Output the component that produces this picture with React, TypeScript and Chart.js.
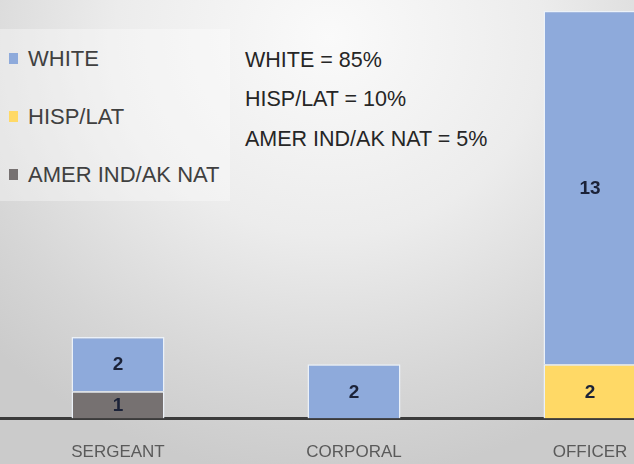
import React, { useEffect, useRef } from "react";
import { Chart, registerables } from "chart.js";

Chart.register(...registerables);

const categories = ["SERGEANT", "CORPORAL", "OFFICER"];
const amerIndValues = [1, null, null];
const hispLatValues = [null, null, 2];
const whiteValues = [2, 2, 13];

const seriesLabels = ["AMER IND/AK NAT", "HISP/LAT", "WHITE"];
const seriesColors = ["#767171", "#ffd966", "#8eaadb"];

const noteLines = ["WHITE = 85%", "HISP/LAT = 10%", "AMER IND/AK NAT = 5%"];

const valueLabelPlugin = {
  id: "valueLabels",
  afterDatasetsDraw(chart: any) {
    const ctx = chart.ctx;
    ctx.save();
    ctx.font = "bold 19px 'Liberation Sans', sans-serif";
    ctx.fillStyle = "#1b2238";
    ctx.textAlign = "center";
    ctx.textBaseline = "middle";
    chart.data.datasets.forEach((ds: any, i: number) => {
      const meta = chart.getDatasetMeta(i);
      meta.data.forEach((el: any, j: number) => {
        const v = ds.data[j];
        if (v === null || v === undefined || v === 0) return;
        const p = el.getProps(["x", "y", "base"], true);
        ctx.fillText(String(v), p.x, (p.y + p.base) / 2 + 1);
      });
    });
    ctx.restore();
  },
};

export default function App() {
  const canvasRef = useRef<HTMLCanvasElement | null>(null);

  useEffect(() => {
    document.body.style.margin = "0";
    const canvas = canvasRef.current;
    if (!canvas) return;
    const chart = new Chart(canvas, {
      type: "bar",
      data: {
        labels: categories,
        datasets: [
          { label: seriesLabels[0], data: amerIndValues, backgroundColor: seriesColors[0] },
          { label: seriesLabels[1], data: hispLatValues, backgroundColor: seriesColors[1] },
          { label: seriesLabels[2], data: whiteValues, backgroundColor: seriesColors[2] },
        ].map((d) => ({
          ...d,
          borderColor: "rgba(236,242,250,0.95)",
          borderWidth: 1.5,
          borderSkipped: "start",
          barPercentage: 0.394,
          categoryPercentage: 1,
        })) as any,
      },
      options: {
        responsive: false,
        animation: false,
        layout: { padding: { top: 0, left: 0, right: 0, bottom: 0 } },
        plugins: {
          legend: { display: false },
          tooltip: { enabled: false },
          title: { display: false },
        },
        scales: {
          x: {
            stacked: true,
            grid: { display: false, drawTicks: false },
            border: { display: true, color: "#3b3b3b", width: 3 },
            afterFit: (scale: any) => {
              scale.height = 45.5;
            },
            ticks: {
              padding: 24,
              color: "#5a5a5a",
              font: { family: "'Liberation Sans', sans-serif", size: 17 },
            },
          },
          y: {
            stacked: true,
            display: false,
            min: 0,
            max: 15.4,
          },
        },
      },
      plugins: [valueLabelPlugin],
    });
    return () => chart.destroy();
  }, []);

  const legendItems = [2, 1, 0];
  const legendCenters = [58, 116.5, 174.5];
  const noteCenters = [60, 99.5, 139];

  return (
    <div
      style={{
        position: "relative",
        width: 634,
        height: 464,
        overflow: "hidden",
        background:
          "radial-gradient(ellipse 75% 95% at 52% 8%, #fafafa 0%, #ececec 45%, #d6d6d6 80%, #cbcbcb 100%)",
        fontFamily: "'Liberation Sans', Arial, sans-serif",
      }}
    >
      <div
        style={{
          position: "absolute",
          left: 0,
          top: 29,
          width: 230,
          height: 172,
          background: "rgba(255,255,255,0.35)",
        }}
      />
      {legendItems.map((idx, k) => (
        <div key={seriesLabels[idx]}>
          <div
            style={{
              position: "absolute",
              left: 9,
              top: legendCenters[k] - 5.5,
              width: 9,
              height: 11,
              background: seriesColors[idx],
            }}
          />
          <div
            style={{
              position: "absolute",
              left: 28,
              top: legendCenters[k] - 14.5,
              fontSize: 22,
              lineHeight: "29.5px",
              color: "#404040",
              whiteSpace: "nowrap",
            }}
          >
            {seriesLabels[idx]}
          </div>
        </div>
      ))}
      {noteLines.map((t, k) => (
        <div
          key={t}
          style={{
            position: "absolute",
            left: 245,
            top: noteCenters[k] - 14.3,
            fontSize: 21.5,
            lineHeight: "29.5px",
            color: "#262626",
            whiteSpace: "nowrap",
          }}
        >
          {t}
        </div>
      ))}
      <canvas
        ref={canvasRef}
        width={708}
        height={464}
        style={{ position: "absolute", left: 0, top: 0, width: 708, height: 464 }}
      />
    </div>
  );
}
